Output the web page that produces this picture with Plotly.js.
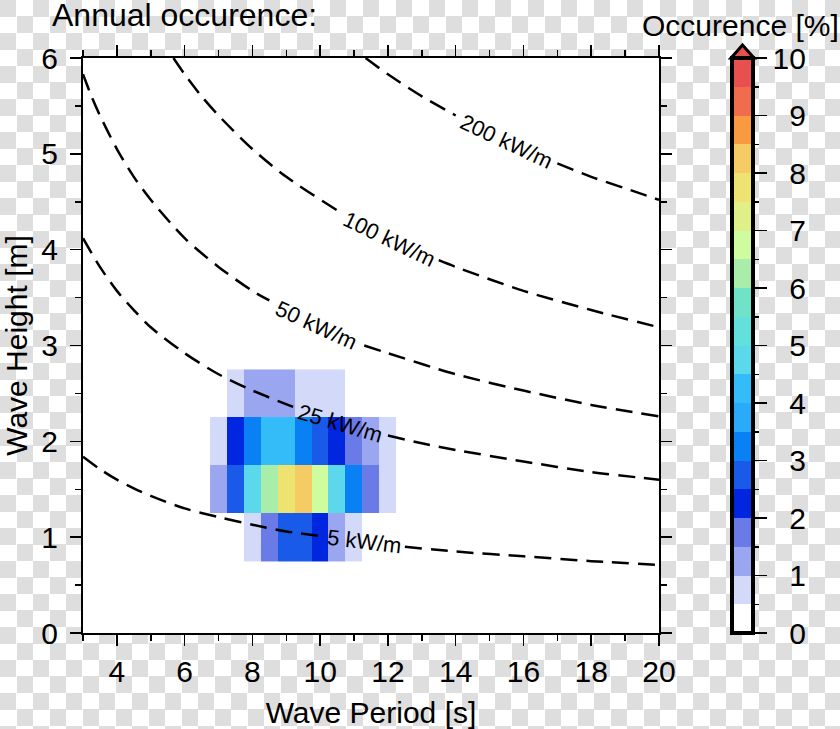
<!DOCTYPE html>
<html>
<head>
<meta charset="utf-8">
<script src="https://cdn.plot.ly/plotly-3.0.1.min.js"></script>
<style>
  html, body { margin: 0; padding: 0; }
  body {
    width: 840px; height: 729px; overflow: hidden;
    background: repeating-conic-gradient(#ffffff 0 25%, #dedede 0 50%) 0 0 / 33px 33px;
  }
  #chart { width: 840px; height: 729px; }
</style>
</head>
<body>
<div id="chart"></div>
<script>
// ---- Data ----
const periods = [7.0, 7.5, 8.0, 8.5, 9.0, 9.5, 10.0, 10.5, 11.0, 11.5, 12.0];   // Wave period [s]
const heights = [1.0, 1.5, 2.0, 2.5];                                          // Wave height [m]
const occH10 = [null, null, 0.75, 1.75, 2.75, 2.75, 2.25, 1.25, 0.75, null, null];
const occH15 = [1.25, 2.75, 4.75, 6.25, 7.75, 8.25, 6.75, 4.75, 3.25, 1.75, 0.75];
const occH20 = [0.75, 2.25, 3.25, 4.25, 4.25, 3.25, 2.75, 2.25, 1.75, 1.25, 0.75];
const occH25 = [null, 0.75, 1.25, 1.25, 1.25, 0.75, 0.75, 0.75, null, null, null];

// discrete colour levels, 0.5 % per step, 0..10 %
const binColors = ['#ffffff', '#d3d9f9', '#9aa6f0', '#6a7ae6', '#0026e0', '#1a5ae8', '#0a80f5',
  '#2aaaf8', '#33bcf8', '#5cd8ec', '#62e0dc', '#70e2c8', '#a8eeaa', '#d0fca0', '#e0ef88',
  '#eee270', '#f5cc64', '#f89a40', '#ef6c4c', '#e85050'];

// wave power iso-lines (kW/m); null = gap for the label
const p5T   = [3, 3.5, 4, 4.5, 5, 6, 7, 8, 9, 10.05, null, 12.5, 14, 16, 18, 20];
const p5H   = [1.84, 1.71, 1.60, 1.51, 1.43, 1.30, 1.21, 1.13, 1.06, 1.01, null, 0.90, 0.85, 0.80, 0.75, 0.71];
const p25T  = [3, 3.5, 4, 4.5, 5, 6, 7, 8, 9.2, null, 12, 13, 14, 16, 18, 20];
const p25H  = [4.12, 3.82, 3.57, 3.37, 3.19, 2.92, 2.70, 2.53, 2.36, null, 2.06, 1.98, 1.91, 1.79, 1.68, 1.60];
const p50T  = [3, 3.25, 3.5, 4, 4.5, 5, 6, 7, 8, 8.5, null, 11.3, 12, 14, 16, 18, 20];
const p50H  = [5.83, 5.60, 5.40, 5.05, 4.76, 4.52, 4.12, 3.82, 3.57, 3.47, null, 3.00, 2.92, 2.70, 2.53, 2.38, 2.26];
const p100T = [5.67, 6, 6.5, 7, 8, 9, 10.5, null, 13.5, 14, 16, 18, 20];
const p100H = [6.00, 5.83, 5.60, 5.40, 5.05, 4.76, 4.41, null, 3.89, 3.82, 3.57, 3.37, 3.19];
const p200T = [11.34, 12, 13, 14, null, 17, 18, 19, 20];
const p200H = [6.00, 5.83, 5.60, 5.40, null, 4.90, 4.76, 4.64, 4.52];

const lineLabels = ['5 kW/m', '25 kW/m', '50 kW/m', '100 kW/m', '200 kW/m'];
const labelT     = [11.3, 10.6, 9.9, 12.06, 15.5];
const labelH     = [0.95, 2.19, 3.21, 4.11, 5.13];
const labelAngle = [6.8, 16.3, 24.7, 25.7, 25.1];

const cbTicks = [0, 1, 2, 3, 4, 5, 6, 7, 8, 9, 10];
const cbMinor = [0.5, 1.5, 2.5, 3.5, 4.5, 5.5, 6.5, 7.5, 8.5, 9.5];

// ---- Build ----
const FONT = 'Liberation Sans, Arial, Helvetica, sans-serif';
const colorscale = [];
binColors.forEach((c, i) => { colorscale.push([i / binColors.length, c]); colorscale.push([(i + 1) / binColors.length, c]); });

const cbPos = { xref: 'paper', x: (732 - 83) / 576, xanchor: 'left', yref: 'paper', y: 0, yanchor: 'bottom',
  len: 1, lenmode: 'fraction', thickness: 21, thicknessmode: 'pixels', xpad: 0, ypad: 0 };

const heat = {
  type: 'heatmap', x: periods, y: heights, z: [occH10, occH15, occH20, occH25],
  zmin: 0, zmax: 10, colorscale: colorscale, hoverinfo: 'skip',
  colorbar: Object.assign({}, cbPos, {
    outlinewidth: 4, outlinecolor: '#000',
    tickmode: 'array', tickvals: cbTicks,
    ticktext: cbTicks.map(v => (v < 10 ? '\u2007' : '') + v),
    ticks: 'outside', ticklen: 12, tickwidth: 1.5, tickcolor: '#000',
    tickfont: { family: FONT, size: 30, color: '#000' }
  })
};

const minorBar = {
  type: 'scatter', mode: 'markers', x: [null], y: [null], hoverinfo: 'skip', showlegend: false,
  marker: {
    color: [0], cmin: 0, cmax: 10, showscale: true,
    colorscale: [[0, 'rgba(0,0,0,0)'], [1, 'rgba(0,0,0,0)']],
    colorbar: Object.assign({}, cbPos, {
      outlinewidth: 0,
      tickmode: 'array', tickvals: cbMinor, showticklabels: false,
      ticks: 'outside', ticklen: 6, tickwidth: 1.5, tickcolor: '#000'
    })
  }
};

function iso(T, H) {
  return { type: 'scatter', mode: 'lines', x: T, y: H, connectgaps: false, hoverinfo: 'skip', showlegend: false,
    line: { color: '#000', width: 2.5, dash: '17px,9px', shape: 'spline', smoothing: 0.8 } };
}

const traces = [heat, minorBar, iso(p5T, p5H), iso(p25T, p25H), iso(p50T, p50H), iso(p100T, p100H), iso(p200T, p200H)];

const annotations = lineLabels.map((t, i) => ({
  text: t, x: labelT[i], y: labelH[i], xref: 'x', yref: 'y', showarrow: false,
  textangle: labelAngle[i], font: { family: FONT, size: 22, color: '#000' }
}));
annotations.push({
  text: 'Occurence [%]', xref: 'paper', yref: 'paper', x: (740 - 83) / 576, y: (633 - 25) / 575,
  xanchor: 'center', yanchor: 'middle', showarrow: false, font: { family: FONT, size: 30, color: '#000' }
});

const axisCommon = {
  showline: true, linecolor: '#000', linewidth: 2, mirror: 'ticks', showgrid: false, zeroline: false,
  ticks: 'outside', ticklen: 11, tickwidth: 1.5, tickcolor: '#000',
  tickfont: { family: FONT, size: 30, color: '#000' }
};

const layout = {
  width: 840, height: 729,
  margin: { l: 83, r: 181, t: 58, b: 96 },
  paper_bgcolor: 'rgba(0,0,0,0)', plot_bgcolor: '#ffffff',
  showlegend: false, hovermode: false,
  font: { family: FONT, size: 30, color: '#000' },
  title: { text: 'Annual occurence:', xref: 'container', x: 52 / 840, xanchor: 'left',
           yref: 'container', y: 1 - 15 / 729, yanchor: 'middle', font: { family: FONT, size: 32, color: '#000' } },
  xaxis: Object.assign({}, axisCommon, {
    range: [3, 20], tickmode: 'linear', tick0: 4, dtick: 2,
    minor: { tick0: 3, dtick: 1, ticks: 'outside', ticklen: 6, tickwidth: 1.5, tickcolor: '#000', showgrid: false },
    title: { text: 'Wave Period [s]', font: { family: FONT, size: 30, color: '#000' } }
  }),
  yaxis: Object.assign({}, axisCommon, {
    range: [0, 6], tickmode: 'linear', tick0: 0, dtick: 1, ticklabelstandoff: 6,
    minor: { tick0: 0, dtick: 0.5, ticks: 'outside', ticklen: 6, tickwidth: 1.5, tickcolor: '#000', showgrid: false },
    title: { text: 'Wave Height [m]', font: { family: FONT, size: 30, color: '#000' } }
  }),
  annotations: annotations,
  shapes: [{
    type: 'path', xref: 'paper', yref: 'paper', layer: 'above',
    path: 'M 1.1250 1.0 L 1.1450 1.0226 L 1.1649 1.0 Z',
    fillcolor: '#e85050', line: { color: '#000', width: 3 }
  }]
};

Plotly.newPlot('chart', traces, layout, { staticPlot: true, displayModeBar: false });
</script>
</body>
</html>
